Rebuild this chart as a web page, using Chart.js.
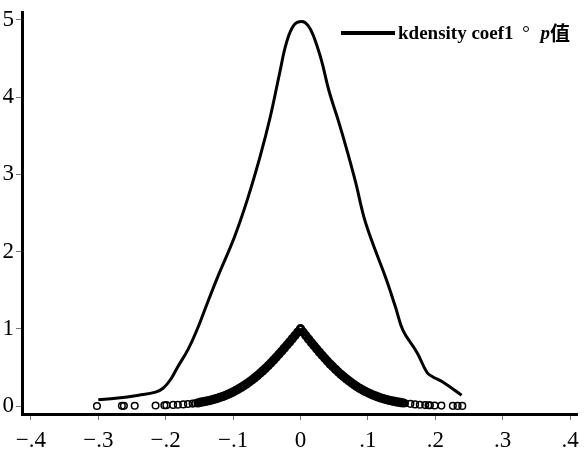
<!DOCTYPE html>
<html>
<head>
<meta charset="utf-8">
<script src="https://cdn.jsdelivr.net/npm/chart.js@4"></script>
<style>
  html, body { margin: 0; padding: 0; background: #fff; }
  #wrap { position: relative; width: 584px; height: 451px; }
  #legend {
    position: absolute; top: 18px; left: 341px;
    font-family: "Liberation Serif", "Times New Roman", serif;
    font-weight: bold; font-size: 19px; color: #000;
    white-space: nowrap; display: flex; align-items: center;
  }
  #legend .ln { display: inline-block; width: 54px; height: 4px; background: #000; margin-right: 3px; }
  #legend .dot { display: inline-block; width: 4px; height: 4px; border: 1.4px solid #000; border-radius: 50%; margin: 0 12px 7px 9px; }
  #legend .cjk { font-family: "Noto Sans CJK SC", sans-serif; font-weight: bold; font-size: 20px; }
</style>
</head>
<body>
<div id="wrap">
  <canvas id="kdChart" width="584" height="451"></canvas>
  <div id="legend"><span class="ln"></span>kdensity coef1<span class="dot"></span><i>p</i><span class="cjk">值</span></div>
</div>
<script>
// kernel density of the coefficient
const densX = [-0.300, -0.274, -0.240, -0.215, -0.204, -0.193, -0.182, -0.167, -0.152, -0.141,
  -0.123, -0.098, -0.079, -0.060, -0.045, -0.031, -0.021, -0.010, 0.002, 0.011,
  0.019, 0.031, 0.042, 0.057, 0.070, 0.082, 0.094, 0.107, 0.126, 0.141,
  0.152, 0.173, 0.188, 0.196, 0.211, 0.239];
const densY = [0.08, 0.10, 0.14, 0.18, 0.23, 0.34, 0.51, 0.73, 1.02, 1.27,
  1.67, 2.19, 2.67, 3.23, 3.74, 4.31, 4.70, 4.93, 4.98, 4.93,
  4.80, 4.48, 4.09, 3.67, 3.28, 2.89, 2.45, 2.11, 1.67, 1.28,
  0.98, 0.69, 0.43, 0.38, 0.31, 0.14];

// p values
const pX = [-0.302, -0.265, -0.262, -0.246, -0.215, -0.202, -0.199, -0.189, -0.182, -0.174,
  -0.167, -0.160, -0.156, -0.152,
  -0.148, -0.144, -0.140, -0.136, -0.132, -0.128, -0.124, -0.120, -0.116, -0.112,
  -0.108, -0.104, -0.100, -0.096, -0.092, -0.088, -0.084, -0.080, -0.076, -0.072,
  -0.068, -0.064, -0.060, -0.056, -0.052, -0.048, -0.044, -0.040, -0.036, -0.032,
  -0.028, -0.024, -0.020, -0.016, -0.012, -0.008, -0.004, 0.000,
  0.004, 0.008, 0.012, 0.016, 0.020, 0.024, 0.028, 0.032, 0.036, 0.040,
  0.044, 0.048, 0.052, 0.056, 0.060, 0.064, 0.068, 0.072, 0.076, 0.080,
  0.084, 0.088, 0.092, 0.096, 0.100, 0.104, 0.108, 0.112, 0.116, 0.120,
  0.124, 0.128, 0.132, 0.136, 0.140, 0.144, 0.148, 0.152,
  0.155, 0.163, 0.170, 0.177, 0.185, 0.190, 0.192, 0.199, 0.209, 0.226, 0.233, 0.240];
const pY = [0.000, 0.002, 0.002, 0.003, 0.006, 0.010, 0.011, 0.014, 0.017, 0.021,
  0.026, 0.031, 0.035, 0.041,
  0.048, 0.055, 0.062, 0.070, 0.078, 0.088, 0.098, 0.110, 0.122, 0.135,
  0.150, 0.165, 0.182, 0.201, 0.220, 0.241, 0.263, 0.286, 0.311, 0.337,
  0.365, 0.394, 0.424, 0.455, 0.488, 0.522, 0.557, 0.594, 0.631, 0.670,
  0.709, 0.749, 0.790, 0.831, 0.873, 0.915, 0.957, 1.000,
  0.955, 0.910, 0.866, 0.822, 0.780, 0.738, 0.697, 0.657, 0.618, 0.580,
  0.543, 0.508, 0.474, 0.441, 0.410, 0.380, 0.351, 0.324, 0.298, 0.273,
  0.250, 0.228, 0.208, 0.189, 0.172, 0.156, 0.141, 0.127, 0.114, 0.102,
  0.092, 0.082, 0.073, 0.065, 0.058, 0.051, 0.045, 0.040,
  0.036, 0.028, 0.021, 0.016, 0.012, 0.010, 0.009, 0.007, 0.005, 0.002, 0.001, 0.001];

const xTicks = [-0.4, -0.3, -0.2, -0.1, 0, 0.1, 0.2, 0.3, 0.4];
const yTicks = [0, 1, 2, 3, 4, 5];

function fmtX(v) {
  if (Math.abs(v) < 1e-9) return '0';
  const s = Math.abs(v).toFixed(1).replace(/^0/, '');
  return (v < 0 ? '\u2212' : '') + s;
}

// sparse tail circles are drawn thin, the dense band heavier
function isTail(ctx) {
  const p = ctx.raw;
  return p && Math.abs(p.x) > 0.153;
}

const tickFont = { family: '"Liberation Serif", "Times New Roman", serif', size: 23 };

const ctx = document.getElementById('kdChart').getContext('2d');
const kdChart = new Chart(ctx, {
  type: 'scatter',
  data: {
    datasets: [{
      label: 'kdensity coef1',
      data: densX.map((x, i) => ({ x: x, y: densY[i] })),
      showLine: true,
      borderColor: '#000',
      borderWidth: 3,
      pointRadius: 0,
      tension: 0.4
    }, {
      label: 'p值',
      data: pX.map((x, i) => ({ x: x, y: pY[i] })),
      showLine: false,
      pointStyle: 'circle',
      pointRadius: c => isTail(c) ? 3.3 : 3.2,
      borderWidth: c => isTail(c) ? 1.5 : 3,
      borderColor: '#000',
      backgroundColor: 'rgba(0,0,0,0)'
    }]
  },
  options: {
    responsive: false,
    animation: false,
    layout: { padding: { top: 12, right: 0, left: 0, bottom: 0 } },
    plugins: { legend: { display: false }, tooltip: { enabled: false } },
    scales: {
      x: {
        type: 'linear',
        min: -0.41319,
        max: 0.4102,
        afterBuildTicks: scale => { scale.ticks = xTicks.map(v => ({ value: v })); },
        afterFit: scale => { scale.height = 37; scale.paddingLeft = 0; scale.paddingRight = 0; },
        ticks: { font: tickFont, color: '#000', padding: 7, maxRotation: 0, autoSkip: false, callback: v => fmtX(v) },
        grid: { drawOnChartArea: false, tickLength: 6, color: '#777', lineWidth: 1 },
        border: { color: '#000', width: 3 }
      },
      y: {
        type: 'linear',
        min: -0.1036,
        max: 5.1036,
        afterBuildTicks: scale => { scale.ticks = yTicks.map(v => ({ value: v })); },
        afterFit: scale => { scale.width = 22; scale.paddingTop = 0; scale.paddingBottom = 0; },
        ticks: { font: tickFont, color: '#000', padding: 2, autoSkip: false, callback: v => String(v) },
        grid: { drawOnChartArea: false, tickLength: 6, color: '#777', lineWidth: 1 },
        border: { color: '#000', width: 3 }
      }
    }
  }
});
</script>
</body>
</html>
